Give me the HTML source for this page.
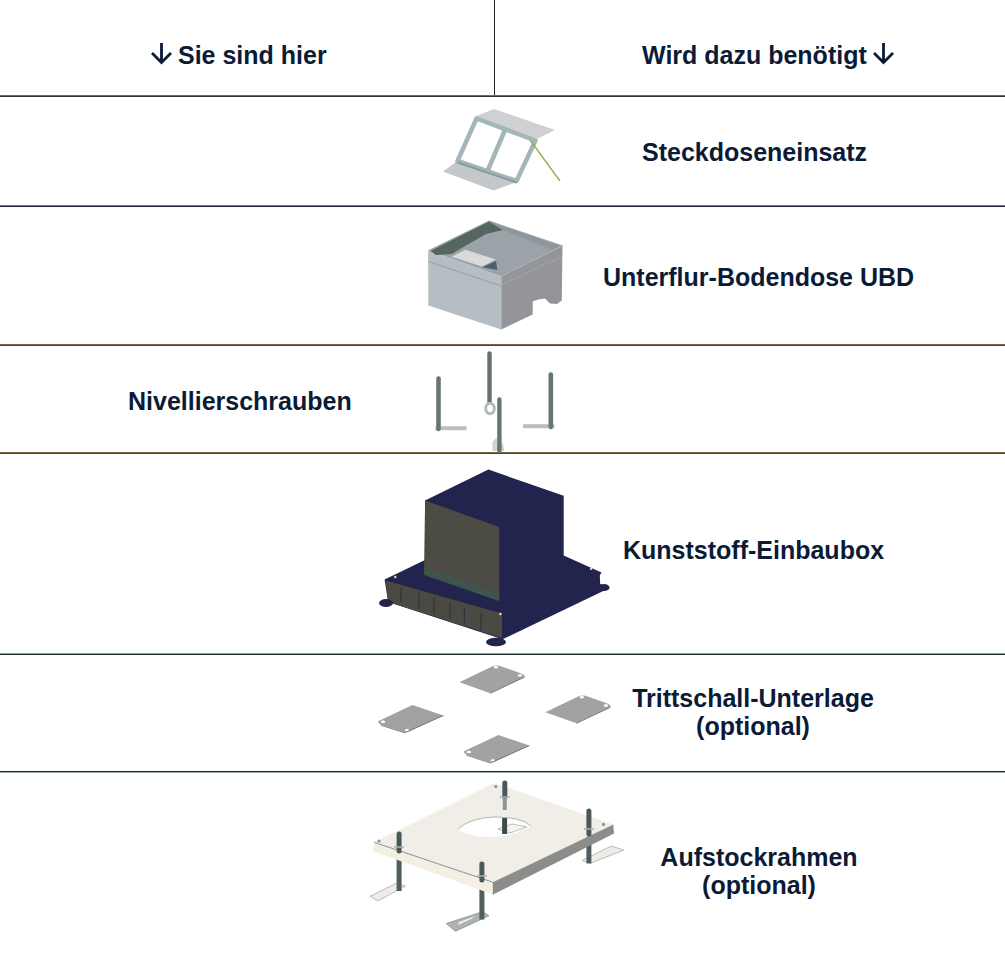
<!DOCTYPE html>
<html><head><meta charset="utf-8">
<style>
html,body{margin:0;padding:0;background:#fff;}
body{width:1005px;height:957px;position:relative;overflow:hidden;font-family:"Liberation Sans",sans-serif;}
.hl{position:absolute;left:0;width:1005px;height:1px;}
.vl{position:absolute;top:0;width:1px;background:#1c2424;}
.t{position:absolute;font-weight:bold;font-size:25px;color:#0b1b36;white-space:nowrap;line-height:28px;}
.c{text-align:center;}
svg{position:absolute;}
</style></head><body>
<div class="vl" style="left:494px;height:97px"></div>
<div class="hl" style="top:95px;background:#6a6a78"></div><div class="hl" style="top:96px;background:#2e3a30"></div>
<div class="hl" style="top:205px;background:#8a7a90"></div><div class="hl" style="top:206px;background:#1e2236"></div>
<div class="hl" style="top:344px;background:#7a6640"></div><div class="hl" style="top:345px;background:#2c4a70"></div>
<div class="hl" style="top:452px;background:#7a6640"></div><div class="hl" style="top:453px;background:#2e4a50"></div>
<div class="hl" style="top:653px;background:#8fa090"></div><div class="hl" style="top:654px;background:#1e3034"></div>
<div class="hl" style="top:771px;background:#123034"></div><div class="hl" style="top:772px;background:#98ae98"></div>

<svg style="left:150px;top:42px" width="24" height="24" viewBox="0 0 24 24"><path d="M11.5 1V21M2 11L11.5 20.5L21 11" fill="none" stroke="#0b1b36" stroke-width="2.8"/></svg>
<div class="t" style="left:178px;top:41px">Sie sind hier</div>
<div class="t" style="left:642px;top:41px">Wird dazu benötigt</div>
<svg style="left:872px;top:42px" width="24" height="24" viewBox="0 0 24 24"><path d="M11.5 1V21M2 11L11.5 20.5L21 11" fill="none" stroke="#0b1b36" stroke-width="2.8"/></svg>
<div class="t" style="left:642px;top:138px">Steckdoseneinsatz</div>
<div class="t" style="left:603px;top:263px">Unterflur-Bodendose UBD</div>
<div class="t" style="left:128px;top:387px">Nivellierschrauben</div>
<div class="t" style="left:623px;top:536px">Kunststoff-Einbaubox</div>
<div class="t c" style="left:553px;top:684px;width:400px">Trittschall-Unterlage<br>(optional)</div>
<div class="t c" style="left:559px;top:843px;width:400px">Aufstockrahmen<br>(optional)</div>
<!--ART-->
<svg style="left:0;top:0" width="1005" height="957" viewBox="0 0 1005 957">
<!-- Steckdoseneinsatz -->
<g>
  <polygon points="475,116.5 494,109 555,130 535,140" fill="#cfd0d2"/>
  <polygon points="443,171.5 456,162 517,182 493.5,190.5" fill="#c4c8ca"/>
  <g fill="none" stroke="#a3b6ba" stroke-width="4.5" stroke-linejoin="round">
    <polygon points="476.5,118.5 535.5,140.5 516.5,181 457.5,161"/>
    <line x1="505" x2="487.5" y1="130" y2="171"/>
  </g>
  <line x1="457.5" y1="162.5" x2="516.5" y2="182.5" stroke="#8c9c9e" stroke-width="2"/>
  <line x1="530" y1="140" x2="560" y2="181" stroke="#8fb04a" stroke-width="1.3"/>
</g>
<!-- Unterflur-Bodendose -->
<g>
  <polygon points="428.2,250.3 501.3,276.4 501.3,329.4 428.2,305.5" fill="#b6bec3"/>
  <polygon points="501.3,276.4 562.5,245.8 561.8,300.5 557,304 550,303.5 545,298.5 538,299.5 532.7,301.5 532.7,314.4 501.3,329.4" fill="#949599"/>
  <polygon points="428.2,250.3 489.1,220.6 562.9,245.6 501.3,276.4" fill="#9ca3a8"/>
  <polygon points="430.5,251 489.1,221.5 503,230 486,234 451.5,254 436,255" fill="#556660"/>
  <polygon points="489.1,221.5 503,230 553,250 560,246" fill="#8d969c"/>
  <polygon points="451.5,256.8 465.4,249.8 496,259.6 482.1,266.5" fill="#d8dadb"/>
  <polygon points="482.1,267.2 496,261 497.4,270" fill="#4d5d6e"/>
  <line x1="428.2" y1="261.5" x2="501.3" y2="286" stroke="#8e969a" stroke-width="0.8"/>
  <line x1="501.3" y1="285" x2="562" y2="256.4" stroke="#a4a8ac" stroke-width="0.8"/>
</g>
<!-- Nivellierschrauben -->
<g stroke-linecap="round">
  <line x1="435.5" y1="428.2" x2="466.5" y2="428.2" stroke="#b9bfbf" stroke-width="4" stroke-linecap="butt"/>
  <line x1="438.5" y1="378.5" x2="438.5" y2="429" stroke="#687576" stroke-width="4.6"/>
  <line x1="489.5" y1="353.5" x2="489.5" y2="404" stroke="#66706a" stroke-width="4.4"/>
  <ellipse cx="490" cy="408.5" rx="4.3" ry="5.2" fill="#fff" stroke="#b5baba" stroke-width="3"/>
  <polygon points="492.3,442 496,438 503,444 504.5,451 492.5,451" fill="#cfd4d4"/>
  <line x1="499.4" y1="399.5" x2="499.4" y2="451" stroke="#687576" stroke-width="4.4"/>
  <line x1="523" y1="426.2" x2="554.5" y2="426.2" stroke="#b9bfbf" stroke-width="4" stroke-linecap="butt"/>
  <line x1="550.8" y1="374.5" x2="550.8" y2="427" stroke="#687576" stroke-width="4.6"/>
</g>
<!-- Kunststoff-Einbaubox -->
<g>
  <polygon points="384.6,579.4 425,560 425,500.6 488.4,469.6 563.7,495.8 563.7,555.5 601.5,572.5 599.8,575.5 600.2,584 609.5,588 502.5,639.3 388.1,602" fill="#23244e"/>
  <polygon points="425.1,500.6 499.2,526.9 499.2,600.9 424,574.6" fill="#4c4b44"/>
  <polygon points="424,567 499.2,593 499.2,601 424,575" fill="#3d5650" opacity="0.8"/>
  <polygon points="385.5,580.5 502,613.5 502,638 388.1,602" fill="#4a4a42"/>
  <g stroke="#2c2c3a" stroke-width="1"><line x1="400.9" y1="587.5" x2="400.9" y2="602.4"/><line x1="419.0" y1="592.7" x2="419.0" y2="608.9"/><line x1="433.9" y1="597.2" x2="433.9" y2="614.0"/><line x1="450.0" y1="603.0" x2="450.0" y2="619.2"/><line x1="464.3" y1="607.6" x2="464.3" y2="623.7"/><line x1="481.1" y1="612.7" x2="481.1" y2="629.6"/></g>
  <ellipse cx="386" cy="603" rx="7" ry="4" fill="#23244e"/>
  <ellipse cx="496" cy="642" rx="10" ry="4.3" fill="#23244e"/>
  <ellipse cx="604" cy="587.5" rx="5.5" ry="3.6" fill="#23244e"/>
  <circle cx="395.3" cy="577" r="1.2" fill="#ddd"/>
  <circle cx="500.4" cy="614" r="1.2" fill="#ddd"/>
  <circle cx="591.1" cy="568.7" r="1.2" fill="#ddd"/>
</g>
<!-- Trittschall-Unterlage -->
<g>
  <g transform="translate(459.4,682.2)"><path d="M0,0 L30,-14.5 Q35,-17.5 40,-16.5 L60,-9.5 Q67,-7 65,-5 L31,11 Z" fill="#a1a3a3"/><ellipse cx="36.5" cy="-15" rx="2.2" ry="1.2" fill="#fff"/><ellipse cx="60.5" cy="-6.8" rx="2.2" ry="1.2" fill="#fff"/><path d="M31,11 L65,-5" stroke="#6f7474" stroke-width="0.9" fill="none"/></g>
  <g transform="translate(545.4,712.3)"><path d="M0,0 L30,-14.5 Q35,-17.5 40,-16.5 L60,-9.5 Q67,-7 65,-5 L31,11 Z" fill="#a1a3a3"/><ellipse cx="36.5" cy="-15" rx="2.2" ry="1.2" fill="#fff"/><ellipse cx="60.5" cy="-6.8" rx="2.2" ry="1.2" fill="#fff"/><path d="M31,11 L65,-5" stroke="#6f7474" stroke-width="0.9" fill="none"/></g>
  <g transform="translate(377.5,722)"><path d="M35,-17 L66,-6.5 L36,7.5 Q31,11 26,10 L6,3.5 Q-1,1 1,-1 Z" fill="#a1a3a3"/><ellipse cx="5.5" cy="-0.2" rx="2.2" ry="1.2" fill="#fff"/><ellipse cx="29.5" cy="8.3" rx="2.2" ry="1.2" fill="#fff"/><path d="M3,3 L27,10.8 L66,-6.5" stroke="#6f7474" stroke-width="0.9" fill="none"/></g>
  <g transform="translate(463.4,752.1)"><path d="M35,-17 L66,-6.5 L36,7.5 Q31,11 26,10 L6,3.5 Q-1,1 1,-1 Z" fill="#a1a3a3"/><ellipse cx="5.5" cy="-0.2" rx="2.2" ry="1.2" fill="#fff"/><ellipse cx="29.5" cy="8.3" rx="2.2" ry="1.2" fill="#fff"/><path d="M3,3 L27,10.8 L66,-6.5" stroke="#6f7474" stroke-width="0.9" fill="none"/></g>
</g>
<!-- Aufstockrahmen -->
<g>
  <!-- feet -->
  <polygon points="370,896.3 395.9,883.4 405.6,886 377.8,900.9" fill="#eeece6" stroke="#a8acac" stroke-width="0.8"/>
  <polygon points="446.3,923.5 482.5,911.8 489,915.7 455.4,931.3" fill="#aeb2b2" stroke="#8a9090" stroke-width="0.8"/>
  <polygon points="459,922 475,916 471,919 458,925" fill="#eee"/>
  <polygon points="581.9,860.6 611.2,846 623.7,850.1 590.3,863.4" fill="#eeece6" stroke="#a8acac" stroke-width="0.8"/>
  <!-- lower rods -->
  <g stroke="#505e60" stroke-width="5">
    <line x1="399.1" y1="850" x2="399.1" y2="891"/>
    <line x1="481.9" y1="880" x2="481.9" y2="919.5"/>
    <line x1="588.9" y1="832" x2="588.9" y2="863.4"/>
  </g>
  <!-- plate -->
  <polygon points="374.1,842.3 494.2,783 613.3,824.4 492.8,882.2" fill="#f1eee8"/>
  <polygon points="374.1,842.3 492.8,882.2 492.8,894.5 372.8,851" fill="#f3efe3"/>
  <polygon points="492.8,882.2 613.3,824.4 614,833.4 492.8,894.7" fill="#8c8c8a"/>
  <line x1="374.1" y1="842.3" x2="492.8" y2="882.2" stroke="#7c8888" stroke-width="0.9"/>
  <path d="M458,829 Q470,818 494,817 Q522,817 531,826 Q515,836 494,837 Q468,837 458,829 Z" fill="#ffffff"/>
  <path d="M458,829 Q470,818 494,817 Q522,817 531,826" fill="none" stroke="#9aa4a4" stroke-width="0.8"/>
  <polygon points="498,829 512,824 527,827 510,833" fill="#f4f4f2" stroke="#a0a8a8" stroke-width="0.7"/>
  <line x1="504.6" y1="818" x2="504.6" y2="834" stroke="#3e4c50" stroke-width="5"/>
  <!-- stubs -->
  <g stroke="#4a585a" stroke-width="5" stroke-linecap="round">
    <line x1="504.8" y1="783" x2="504.8" y2="797"/>
    <line x1="399.1" y1="834" x2="399.1" y2="851"/>
    <line x1="481.9" y1="864" x2="481.9" y2="880"/>
    <line x1="588.9" y1="811" x2="588.9" y2="834"/>
  </g>
  <g stroke="#a8b0b0" stroke-width="1.5" fill="none">
    <line x1="500" y1="797" x2="510" y2="797"/>
    <line x1="394" y1="847" x2="404" y2="847"/>
    <line x1="477" y1="876" x2="487" y2="876"/>
    <line x1="584" y1="829" x2="594" y2="829"/>
  </g>
  <line x1="504.8" y1="797" x2="504.8" y2="810" stroke="#8c9898" stroke-width="4"/>
  <circle cx="495.8" cy="786.5" r="1.6" fill="#8a9494"/>
  <circle cx="603.5" cy="824.4" r="1.6" fill="#8a9494"/>
  <circle cx="379" cy="841" r="1.6" fill="#8a9494"/>
</g>
</svg>
<!--/ART-->
</body></html>
